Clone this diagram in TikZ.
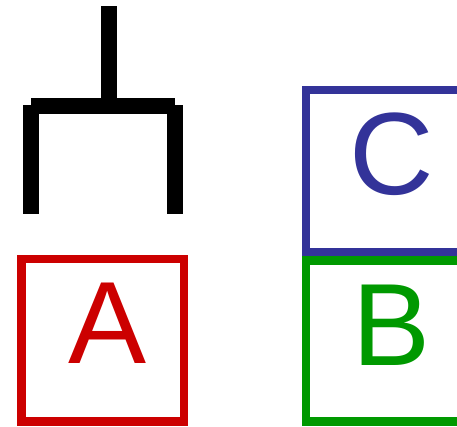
\documentclass[tikz,border=0pt]{standalone}
\usepackage{fontspec}
\setmainfont{Liberation Sans}
\definecolor{boxred}{HTML}{CC0000}
\definecolor{boxblue}{HTML}{333399}
\definecolor{boxgreen}{HTML}{009900}
\begin{document}
\begin{tikzpicture}[x=1pt,y=-1pt,
  frame/.style={line width=8.5pt},
  letter/.style={inner sep=0pt,anchor=base,font=\fontsize{117}{140}\selectfont},
  bracket/.style={line width=16pt,line cap=butt,black}]
\useasboundingbox (0,0) rectangle (457,426);
\clip (0,0) rectangle (457,426);

% tree bracket
\coordinate (top) at (109,6);
\coordinate (mid) at (109,105.5);
\coordinate (barL) at (31,105.5);
\coordinate (barR) at (175,105.5);
\coordinate (legLtop) at (31,105);
\coordinate (legRtop) at (175,105);
\coordinate (legLend) at (31,214);
\coordinate (legRend) at (175,214);
\draw[bracket] (top) -- (mid);
\draw[bracket] (barL) -- (barR);
\draw[bracket] (legLtop) -- (legLend);
\draw[bracket] (legRtop) -- (legRend);

% boxes
\draw[frame,boxred] (21.7,259) rectangle (184,421.3);
\draw[frame,boxblue] (306,90) rectangle (468,252);
\draw[frame,boxgreen] (306,260.3) rectangle (468,421.5);

% letters
\node[letter,text=boxred] (A) at (107.5,363) {A};
\node[letter,text=boxblue] (C) at (391.5,194) {C};
\node[letter,text=boxgreen] (B) at (391.5,365) {B};
\end{tikzpicture}
\end{document}
